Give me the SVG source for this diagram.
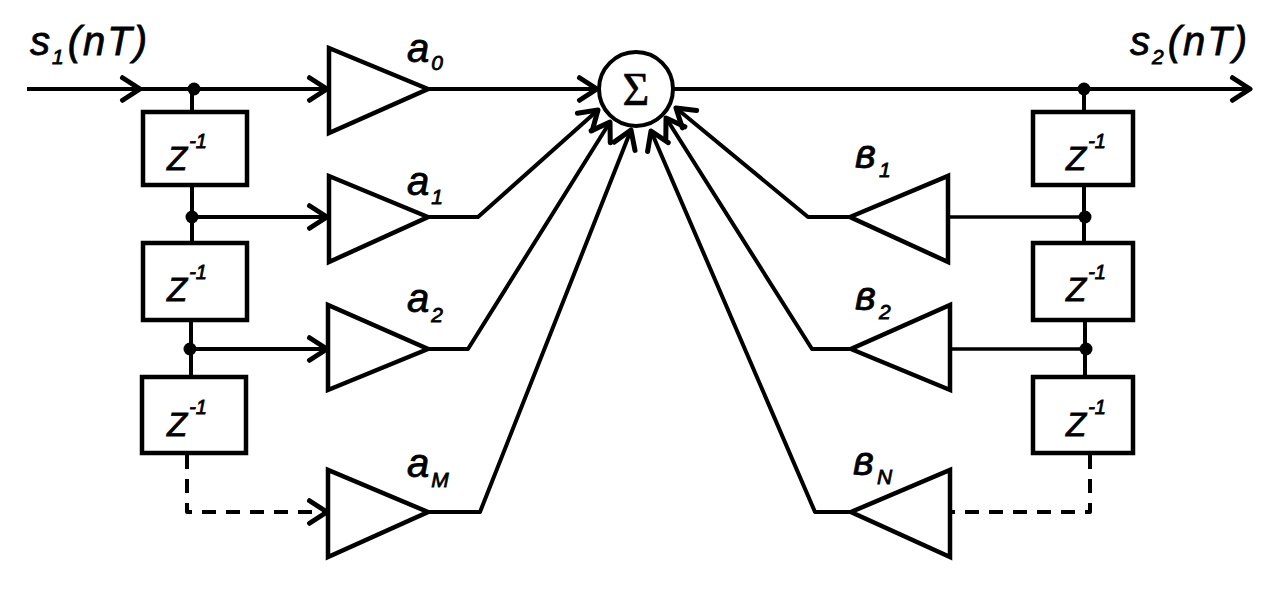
<svg xmlns="http://www.w3.org/2000/svg" width="1287" height="589" viewBox="0 0 1287 589">
<style>
.ln{fill:none;stroke:#000;stroke-width:4;stroke-linejoin:round}
.thin{fill:none;stroke:#000;stroke-width:3.5}
.dash{fill:none;stroke:#000;stroke-width:4;stroke-dasharray:14 10;stroke-linejoin:round}
.tri{fill:#fff;stroke:#000;stroke-width:4.5;stroke-linejoin:miter}
.box{fill:#fff;stroke:#000;stroke-width:4.5}
.dot{fill:#000}
.lbl{font-family:"Liberation Sans",Arial,sans-serif;font-style:italic;font-size:40px;fill:#000;stroke:#000;stroke-width:0.8}
.z{font-family:"Liberation Sans",Arial,sans-serif;font-style:italic;font-size:33px;fill:#000;stroke:#000;stroke-width:0.8}
.sub{font-size:21px}
.sup{font-size:20px}
</style>
<defs>
<marker id="arr" markerUnits="userSpaceOnUse" markerWidth="30" markerHeight="30" viewBox="-18 -12 22 24" refX="0" refY="0" orient="auto">
<path d="M-14,-9 L0,0 L-14,9" fill="none" stroke="#000" stroke-width="4" stroke-linecap="round" stroke-linejoin="round"/>
</marker>
</defs>

<g id="connectors">
<path class="ln" d="M27,89 L140,89" marker-end="url(#arr)"/>
<path class="ln" d="M140,89 L327,89" marker-end="url(#arr)"/>
<path class="ln" d="M192,89 L192,112 M192,185 L192,243 M191,320 L191,377"/>
<path class="ln" d="M192,217 L327,217" marker-end="url(#arr)"/>
<path class="ln" d="M190,349 L327,349" marker-end="url(#arr)"/>
<path class="dash" d="M187,455 L187,512 L327,512" marker-end="url(#arr)"/>
<path class="ln" d="M428,89 L597,89" marker-end="url(#arr)"/>
<path class="ln" d="M428,217 L478,217 L598,110" marker-end="url(#arr)"/>
<path class="ln" d="M428,349 L468,349 L610,122" marker-end="url(#arr)"/>
<path class="ln" d="M428,512 L480,512 L631,130" marker-end="url(#arr)"/>
<path class="ln" d="M850,217 L808,217 L676,108" marker-end="url(#arr)"/>
<path class="ln" d="M851,349 L812,349 L666,118" marker-end="url(#arr)"/>
<path class="ln" d="M851,512 L815,512 L651,131" marker-end="url(#arr)"/>
<path class="ln" d="M673,89 L1250,89" marker-end="url(#arr)"/>
<path class="ln" d="M1084,89 L1084,112 M1084,185 L1084,243 M1085,320 L1085,377"/>
<path class="thin" d="M1085,217 L949,217"/>
<path class="thin" d="M1085,349 L950,349"/>
<path class="dash" d="M1090,455 L1090,512 L950,512"/>
<circle class="dot" cx="194" cy="89" r="6.5"/>
<circle class="dot" cx="192" cy="217" r="6.5"/>
<circle class="dot" cx="190" cy="349" r="6.5"/>
<circle class="dot" cx="1084" cy="89" r="6.5"/>
<circle class="dot" cx="1085" cy="217" r="6.5"/>
<circle class="dot" cx="1086" cy="349" r="6.5"/>
</g>

<g id="label-s1"><text class="lbl" x="30" y="55" letter-spacing="2">s<tspan class="sub" dy="9">1</tspan><tspan dy="-9" dx="2">(nT)</tspan></text></g>
<g id="label-s2"><text class="lbl" x="1130" y="55" letter-spacing="2">s<tspan class="sub" dy="9">2</tspan><tspan dy="-9" dx="2">(nT)</tspan></text></g>

<g id="zl1"><rect class="box" x="143" y="112" width="104" height="73"/><text class="z" x="167" y="170">Z<tspan class="sup" dy="-22" dx="2">-1</tspan></text></g>
<g id="zl2"><rect class="box" x="143" y="243" width="104" height="77"/><text class="z" x="167" y="301">Z<tspan class="sup" dy="-22" dx="2">-1</tspan></text></g>
<g id="zl3"><rect class="box" x="142" y="377" width="104" height="76"/><text class="z" x="167" y="436">Z<tspan class="sup" dy="-22" dx="2">-1</tspan></text></g>

<g id="zr1"><rect class="box" x="1033" y="112" width="100" height="73"/><text class="z" x="1066" y="170">Z<tspan class="sup" dy="-22" dx="2">-1</tspan></text></g>
<g id="zr2"><rect class="box" x="1033" y="243" width="100" height="77"/><text class="z" x="1066" y="301">Z<tspan class="sup" dy="-22" dx="2">-1</tspan></text></g>
<g id="zr3"><rect class="box" x="1033" y="377" width="100" height="76"/><text class="z" x="1066" y="436">Z<tspan class="sup" dy="-22" dx="2">-1</tspan></text></g>

<g id="a0"><polygon class="tri" points="329,48 329,133 428,89"/><text class="lbl" x="407" y="62">a<tspan class="sub" dy="8" dx="2">0</tspan></text></g>
<g id="a1"><polygon class="tri" points="329,176 329,262 428,217"/><text class="lbl" x="407" y="195">a<tspan class="sub" dy="9" dx="2">1</tspan></text></g>
<g id="a2"><polygon class="tri" points="328,305 328,390 428,349"/><text class="lbl" x="407" y="312">a<tspan class="sub" dy="10" dx="2">2</tspan></text></g>
<g id="aM"><polygon class="tri" points="328,470 328,557 428,512"/><text class="lbl" x="407" y="477">a<tspan class="sub" dy="10" dx="2">M</tspan></text></g>

<g id="b1"><polygon class="tri" points="948,176 948,262 850,217"/><text class="lbl" x="855" y="168">в<tspan class="sub" dy="9" dx="3">1</tspan></text></g>
<g id="b2"><polygon class="tri" points="950,305 950,390 851,349"/><text class="lbl" x="855" y="310">в<tspan class="sub" dy="9" dx="3">2</tspan></text></g>
<g id="bN"><polygon class="tri" points="950,470 950,557 851,512"/><text class="lbl" x="853" y="475">в<tspan class="sub" dy="9" dx="3">N</tspan></text></g>

<g id="sum"><circle cx="636" cy="89" r="37" fill="#fff" stroke="#000" stroke-width="4"/><text x="636" y="105" text-anchor="middle" font-family="Liberation Serif,serif" font-size="46" stroke="#000" stroke-width="0.6">Σ</text></g>
</svg>
